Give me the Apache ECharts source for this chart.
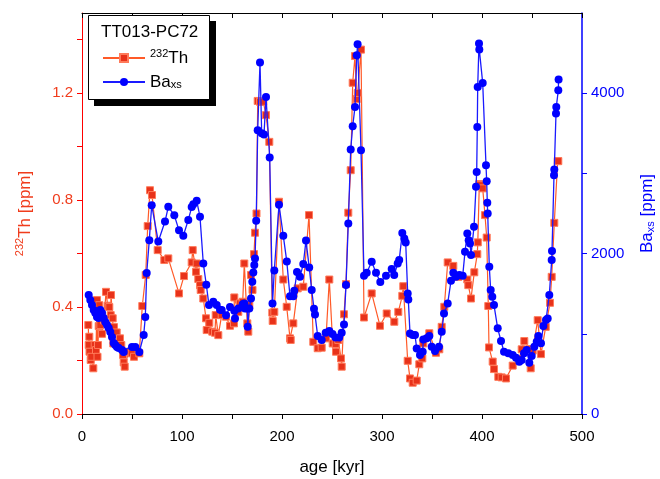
<!DOCTYPE html>
<html>
<head>
<meta charset="utf-8">
<script src="https://cdn.jsdelivr.net/npm/echarts@6/dist/echarts.min.js"></script>
<style>
  html, body { margin: 0; padding: 0; background: #fff; }
  #chart { width: 660px; height: 479px; }
</style>
</head>
<body>
<div id="chart"></div>
<script>
// 232Th record (age in kyr, ppm)
const thAge = [6.3, 6.7, 7.3, 7.5, 8.7, 9.3, 11.3, 12.7, 14, 15, 15.5, 16, 16.7, 17.3, 18.3, 20, 22, 24, 25.7, 27.3,
  28.7, 29, 30.7, 31.3, 32, 33.3, 34.7, 36, 38, 39.3, 41, 41.7, 42.7, 46.7, 49.7, 52, 57.3, 60.3, 63.7, 65.7,
  68, 70, 75.7, 82.3, 86.3, 97, 102, 109.7, 110.7, 114, 114.7, 116.3, 118, 118.7, 121.3, 124, 124.7, 127.3, 130.3, 133,
  133.7, 136.3, 139.7, 144, 148, 152, 152.3, 156.3, 158, 160.7, 162.3, 165.3, 166.3, 167.3, 169, 170.5, 172, 173, 174.5, 175.7,
  178, 181.3, 184, 187.3, 190.3, 190.7, 192.3, 197, 201.3, 204.7, 208, 208.7, 211.3, 215.7, 221.3, 227, 231.3, 235.7, 239.7, 244,
  247.3, 250.7, 253.7, 254, 256.3, 259, 259.7, 262, 264, 266.3, 268.7, 270.7, 273, 274.7, 275.7, 279, 282, 289.7, 298, 304.7,
  312.3, 316.3, 320.3, 321.3, 325.7, 328, 330.7, 334.7, 337.3, 340.3, 341.3, 347.3, 354, 357.3, 359.7, 362.3, 365.7, 371.3, 376.3, 385.3,
  386.3, 389, 392.3, 395.3, 395.8, 397.3, 398, 400.7, 403, 404.7, 406.3, 407, 410.7, 412, 416.3, 419.7, 424, 430.7, 437.3, 439.7,
  442.3, 447.3, 448.7, 450.7, 455.7, 459, 463.7, 468, 469.7, 472.3, 475.7, 476.3];
const thVal = [0.333, 0.258, 0.289, 0.233, 0.202, 0.214, 0.171, 0.258, 0.239, 0.426, 0.214, 0.258, 0.329, 0.407, 0.333, 0.30, 0.35, 0.457, 0.405, 0.400,
  0.370, 0.445, 0.358, 0.264, 0.325, 0.299, 0.305, 0.264, 0.283, 0.258, 0.221, 0.193, 0.177, 0.233, 0.227, 0.214, 0.227, 0.404, 0.52, 0.703,
  0.837, 0.819, 0.613, 0.576, 0.582, 0.451, 0.516, 0.567, 0.613, 0.532, 0.563, 0.505, 0.482, 0.464, 0.432, 0.358, 0.314, 0.341, 0.308, 0.304,
  0.37, 0.295, 0.37, 0.364, 0.33, 0.339, 0.436, 0.382, 0.414, 0.42, 0.563, 0.339, 0.308, 0.407, 0.52, 0.464, 0.598, 0.678, 0.75, 1.171,
  1.168, 1.168, 1.118, 1.018, 0.379, 0.348, 0.382, 0.794, 0.503, 0.401, 0.283, 0.277, 0.339, 0.47, 0.476, 0.744, 0.27, 0.246, 0.248, 0.283,
  0.503, 0.264, 0.262, 0.233, 0.277, 0.208, 0.177, 0.373, 0.486, 0.753, 0.912, 1.239, 1.339, 1.178, 1.201, 1.363, 0.361, 0.451, 0.33, 0.376,
  0.345, 0.382, 0.442, 0.478, 0.199, 0.133, 0.117, 0.125, 0.186, 0.208, 0.264, 0.302, 0.229, 0.242, 0.326, 0.401, 0.567, 0.554, 0.513, 0.503,
  0.482, 0.432, 0.53, 0.598, 0.642, 0.86, 0.856, 0.844, 0.744, 0.66, 0.404, 0.249, 0.196, 0.168, 0.139, 0.137, 0.133, 0.181, 0.206, 0.242,
  0.273, 0.243, 0.171, 0.237, 0.351, 0.224, 0.326, 0.416, 0.513, 0.715, 0.946, 0.946];

// Ba excess record (age in kyr, ppm)
const baAge = [6.7, 8.3, 10, 11.7, 13.3, 15, 16.7, 18.3, 20, 21.7, 23.3, 25, 26.7, 28.3, 30, 31.7, 33.3, 35, 36.7, 40,
  41.7, 50, 53.3, 57.3, 61.7, 63.3, 64.7, 67.3, 69.7, 76.3, 83, 86.3, 92.3, 97, 101.3, 106.3, 109.7, 111.3, 114.7, 118,
  121.3, 124.3, 127, 131.3, 134.7, 138, 139.7, 144, 148, 152.3, 153, 156.3, 160.7, 162.3, 163, 165.3, 165.7, 167.3, 169, 170.3,
  171.3, 172.3, 173, 174.2, 175.7, 178, 179.7, 182, 184, 187.7, 190.5, 192.3, 197, 201.3, 204.8, 208, 211.3, 212.3, 215, 218,
  221.3, 224, 227.2, 229.7, 232, 233, 235.7, 239.7, 243.7, 247.3, 250.5, 253.5, 257.2, 259.7, 262, 264, 266.3, 268.7, 270.7, 273,
  274.8, 275.6, 279, 282, 284.7, 289.7, 294, 298.3, 304, 309.7, 312.2, 315.7, 317.2, 320.3, 322.3, 323.7, 325.7, 326.3, 328, 330.7,
  333, 334.7, 338, 340.7, 341.3, 344.7, 347.3, 349.7, 353, 357, 359.7, 362, 365.7, 369, 371.3, 374, 377.3, 380.7, 383, 385.3,
  386.7, 388, 389, 392, 394, 394.7, 395.3, 395.7, 397, 397.3, 400.7, 404, 404.7, 405.3, 405.7, 407.3, 408.7, 410.3, 412, 415.7,
  419, 422, 426.3, 430.7, 434, 437.3, 439.7, 442, 444.7, 447.3, 449.7, 452.3, 454.7, 456.3, 459, 461.3, 464, 465.7, 467.3, 469.7,
  470, 472, 472.3, 474, 474.3, 476.3, 476.6];
const baVal = [1483, 1420, 1358, 1296, 1258, 1209, 1196, 1296, 1258, 1196, 1146, 1109, 1072, 1022, 959, 885, 860, 835, 822, 797,
  773, 835, 835, 773, 984, 1209, 1757, 2168, 2604, 2150, 2400, 2583, 2479, 2290, 2222, 2420, 2580, 2616, 2658, 2458,
  1877, 1612, 1358, 1400, 1358, 1300, 1296, 1230, 1333, 1287, 1192, 1317, 1370, 1379, 1317, 1317, 1088, 1317, 1441, 1649,
  1763, 1857, 1940, 2410, 3539, 4382, 3500, 3484, 3954, 3198, 1379, 1790, 2608, 2222, 1900, 1468, 1468, 1537, 1770, 1711,
  1870, 2164, 1828, 1545, 1312, 1240, 972, 922, 1013, 1034, 997, 955, 955, 1013, 1117, 1607, 2376, 3298, 3588, 3829,
  4473, 4610, 3289, 1723, 1761, 1898, 1761, 1645, 1723, 1807, 1732, 1877, 1919, 2258, 2189, 2139, 1503, 1429, 1005, 984,
  984, 818, 735, 776, 930, 943, 972, 839, 785, 839, 1025, 1254, 1379, 1661, 1761, 1711, 1732, 1723, 2022, 2252,
  2168, 2127, 1981, 2334, 2832, 3019, 3580, 4078, 4619, 4544, 4128, 3102, 2903, 2633, 2500, 1835, 1545, 1462, 1358, 1068,
  910, 776, 756, 735, 702, 652, 673, 756, 797, 640, 723, 839, 901, 972, 881, 1096, 1171, 1192, 1483, 1919,
  2031, 2978, 3049, 3747, 3829, 4037, 4170];

const xLabels = [0, 100, 200, 300, 400, 500];
const xTicks = [0, 50, 100, 150, 200, 250, 300, 350, 400, 450, 500];
const thLabels = [0, 0.4, 0.8, 1.2];
const thTicks = [0, 0.2, 0.4, 0.6, 0.8, 1.0, 1.2, 1.4];
const baLabels = [0, 2000, 4000];
const baTicks = [0, 1000, 2000, 3000, 4000];

const thColor = '#f03c1c';
const baColor = '#0000ff';
const font = 'Liberation Sans, Arial, sans-serif';

const chart = echarts.init(document.getElementById('chart'));

chart.setOption({
  animation: false,
  backgroundColor: '#fff',
  grid: { left: 82, right: 78, top: 13, bottom: 65, outerBoundsMode: 'none', containLabel: false },
  xAxis: [
    {
      type: 'value', min: 0, max: 500, interval: 50,
      name: 'age [kyr]', nameLocation: 'middle', nameGap: 45,
      nameTextStyle: { color: '#000', fontSize: 17, fontFamily: font },
      axisLine: { onZero: false, lineStyle: { color: '#000', width: 1 } },
      axisTick: { show: true, inside: false, length: 5, customValues: xTicks, lineStyle: { color: '#000' } },
      axisLabel: { customValues: xLabels, color: '#000', fontSize: 15, fontFamily: font, margin: 15 },
      splitLine: { show: false }
    },
    {
      type: 'value', position: 'top', min: 0, max: 500, interval: 50,
      axisLine: { onZero: false, lineStyle: { color: '#000', width: 1 } },
      axisTick: { show: true, inside: true, length: 5, customValues: xTicks, lineStyle: { color: '#000' } },
      axisLabel: { show: false },
      splitLine: { show: false }
    }
  ],
  yAxis: [
    {
      type: 'value', position: 'left', min: 0, max: 1.5, interval: 0.2,
      name: '{sup|232}Th [ppm]', nameLocation: 'middle', nameGap: 46,
      nameTextStyle: {
        color: thColor, fontSize: 17, fontFamily: font,
        rich: {
          sup: { fontSize: 11, color: thColor, fontFamily: font, verticalAlign: 'top', lineHeight: 22 }
        }
      },
      axisLine: { onZero: false, lineStyle: { color: '#ff0000', width: 1 } },
      axisTick: { show: true, inside: false, length: 5, customValues: thTicks, lineStyle: { color: '#ff0000' } },
      axisLabel: {
        customValues: thLabels, color: thColor, fontSize: 15, fontFamily: font, margin: 9,
        formatter: v => v.toFixed(1)
      },
      splitLine: { show: false }
    },
    {
      type: 'value', position: 'right', min: 0, max: 5000, interval: 1000,
      name: 'Ba{sub|xs} [ppm]', nameLocation: 'middle', nameGap: 57,
      nameTextStyle: {
        color: baColor, fontSize: 17, fontFamily: font,
        rich: {
          sub: { fontSize: 11, color: baColor, fontFamily: font, verticalAlign: 'bottom', lineHeight: 11 }
        }
      },
      axisLine: { onZero: false, lineStyle: { color: baColor, width: 1.5 } },
      axisTick: { show: true, inside: false, length: 5, customValues: baTicks, lineStyle: { color: baColor } },
      axisLabel: {
        customValues: baLabels, color: baColor, fontSize: 15, fontFamily: font, margin: 9,
        formatter: v => String(v)
      },
      splitLine: { show: false }
    }
  ],
  legend: {
    orient: 'vertical', left: 97, top: 43, itemGap: 7, z: 30,
    itemWidth: 42, itemHeight: 10,
    data: ['Th', 'Ba'],
    textStyle: {
      color: '#000', fontSize: 17, fontFamily: font,
      rich: {
        sup: { fontSize: 11, fontFamily: font, verticalAlign: 'top', lineHeight: 20 },
        sub: { fontSize: 11, fontFamily: font, verticalAlign: 'bottom', lineHeight: 11 }
      }
    },
    formatter: n => n === 'Th' ? '{sup|232}Th' : 'Ba{sub|xs}'
  },
  graphic: [
    { type: 'rect', z: 10, shape: { x: 94, y: 21, width: 122, height: 85 }, style: { fill: '#000' } },
    { type: 'rect', z: 11, shape: { x: 88.5, y: 15.5, width: 121, height: 84 }, style: { fill: '#fff', stroke: '#000', lineWidth: 1 } },
    { type: 'text', z: 12, left: 101, top: 24, style: { text: 'TT013-PC72', fill: '#000', fontSize: 17, fontFamily: font } }
  ],
  series: [
    {
      name: 'Th', type: 'line', xAxisIndex: 0, yAxisIndex: 0, z: 3,
      data: thAge.map((a, i) => [a, thVal[i]]),
      symbol: 'rect', symbolSize: 7,
      itemStyle: { color: '#e8321a', borderColor: '#ff7a5a', borderWidth: 1 },
      lineStyle: { color: '#ff5a28', width: 1.2 }
    },
    {
      name: 'Ba', type: 'line', xAxisIndex: 0, yAxisIndex: 1, z: 4,
      data: baAge.map((a, i) => [a, baVal[i]]),
      symbol: 'circle', symbolSize: 8,
      itemStyle: { color: baColor },
      lineStyle: { color: '#1a1aff', width: 1.3 }
    }
  ]
});
</script>
</body>
</html>
